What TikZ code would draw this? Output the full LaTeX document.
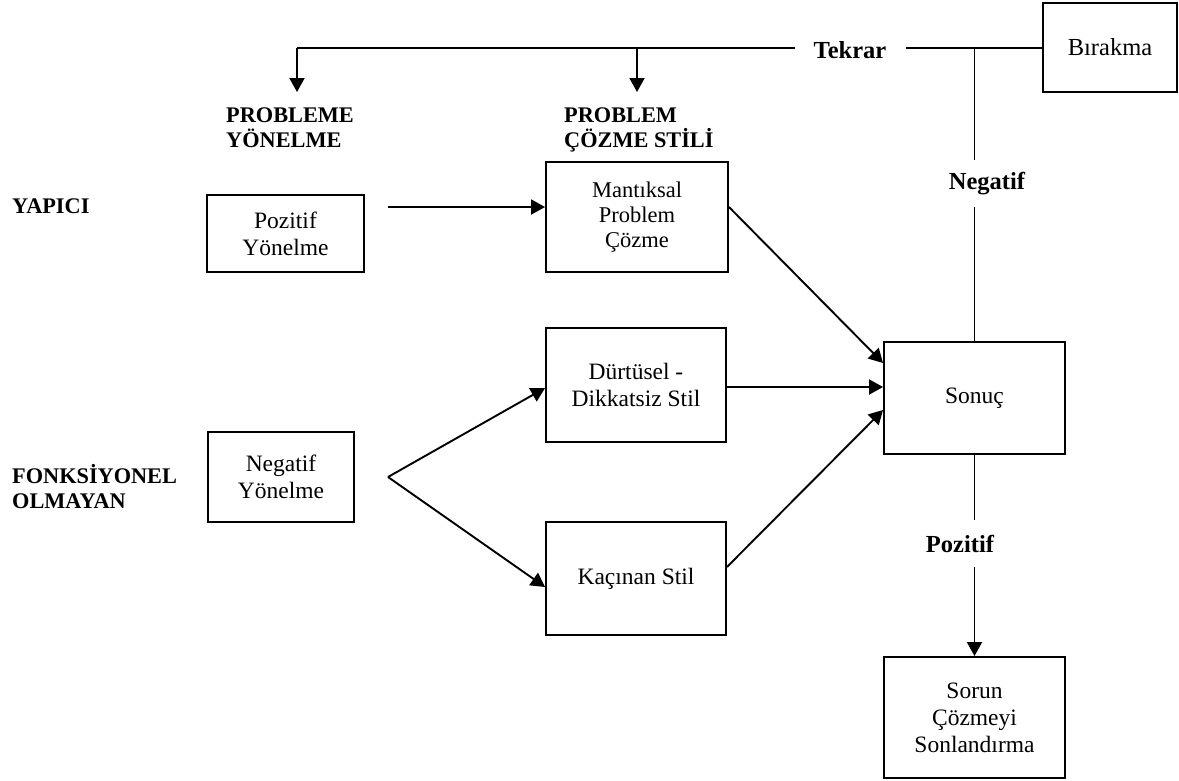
\documentclass[tikz,border=0pt]{standalone}
\usepackage{fontspec}
\setmainfont{Liberation Serif}
\usetikzlibrary{arrows.meta}
\begin{document}
\begin{tikzpicture}[x=1pt,y=-1pt,
  box/.style={draw, line width=1.9pt, align=center, inner sep=0pt, font=\fontsize{23.5}{27}\selectfont},
  head/.style={align=left, inner sep=0pt, anchor=north west, font=\bfseries\fontsize{22.3}{25}\selectfont},
  lbl/.style={inner sep=0pt, font=\bfseries\fontsize{24.5}{27}\selectfont},
  conn/.style={line width=1.9pt},
  arr/.style={conn, -{Triangle[length=14pt,width=15pt]}},
]
\useasboundingbox (0,0) rectangle (1179,780);

% boxes
\node[box, minimum width=157pt, minimum height=77pt] (pozy) at (285.5,233.5) {Pozitif\\Yönelme};
\node[box, minimum width=146pt, minimum height=90pt] (negy) at (281,477) {Negatif\\Yönelme};
\node[box, minimum width=182pt, minimum height=110pt, font=\fontsize{22.5}{25}\selectfont] (mant) at (637,217) {Mantıksal\\Problem\\Çözme};
\node[box, minimum width=180pt, minimum height=114pt] (durt) at (636,385) {Dürtüsel -\\Dikkatsiz Stil};
\node[box, minimum width=180pt, minimum height=113pt] (kac) at (636,578.5) {Kaçınan Stil};
\node[box, minimum width=181pt, minimum height=112pt] (sonuc) at (974.5,398) {Sonuç};
\node[box, minimum width=181pt, minimum height=121pt] (sorun) at (974.5,717.5) {Sorun\\Çözmeyi\\Sonlandırma};
\node[box, minimum width=134pt, minimum height=89pt, font=\fontsize{24.5}{27}\selectfont] (birakma) at (1110,47.5) {Bırakma};

% headings
\node[head] (h1) at (226,108) {PROBLEME\\YÖNELME};
\node[head] (h2) at (564,108) {PROBLEM\\ÇÖZME STİLİ};
\node[head] (yap) at (12,199) {YAPICI};
\node[head] (fonk) at (12,464) {FONKSİYONEL\\OLMAYAN};

% connector labels
\node[lbl, inner xsep=19pt] (tekrar) at (850,50) {Tekrar};
\node[lbl, minimum height=47pt] (negl) at (987,183.5) {Negatif};
\node[lbl, minimum height=47pt] (pozl) at (960,543.5) {Pozitif};

% coordinates
\coordinate (tl) at (297,48);
\coordinate (tm) at (637,48);
\coordinate (tr) at (974.5,48);
\coordinate (tla) at (297,92);
\coordinate (tma) at (637,92);
\coordinate (pa) at (388,207);
\coordinate (br) at (388,477);
\coordinate (da) at (727,387);

% top feedback line
\draw[conn] (birakma.west |- tr) -- (tekrar.east |- tr);
\draw[conn] (tekrar.west |- tr) -- (tl);
\draw[arr] (tl) -- (tla);
\draw[arr] (tm) -- (tma);

% Sonuc up to top (Negatif)
\draw[conn] (sonuc.north) -- (sonuc.north |- negl.south);
\draw[conn] (sonuc.north |- negl.north) -- (tr);

% Sonuc down (Pozitif)
\draw[conn] (sonuc.south) -- (sonuc.south |- pozl.north);
\draw[arr] (sonuc.south |- pozl.south) -- (sorun.north);

% left part
\draw[arr] (pa) -- (mant.west |- pa);
\draw[arr] (br) -- ([yshift=-3pt]durt.west);
\draw[arr] (br) -- ([yshift=-8.5pt]kac.west);

% into Sonuc
\draw[arr] ([yshift=10pt]mant.east) -- ([yshift=35pt]sonuc.west);
\draw[arr] (durt.east |- da) -- (sonuc.west |- da);
\draw[arr] ([yshift=11.5pt]kac.east) -- ([yshift=-12pt]sonuc.west);
\end{tikzpicture}
\end{document}
